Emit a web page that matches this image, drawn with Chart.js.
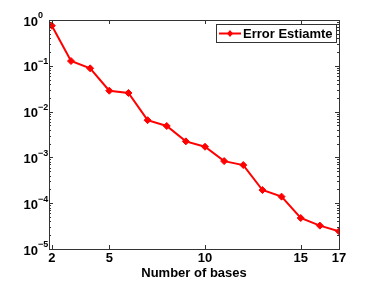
<!DOCTYPE html>
<html>
<head>
<meta charset="utf-8">
<script src="https://cdn.jsdelivr.net/npm/chart.js@4"></script>
<style>
  html, body { margin: 0; padding: 0; background: #fff; }
  #wrap { width: 374px; height: 281px; }
</style>
</head>
<body>
<div id="wrap"><canvas id="errChart"></canvas></div>
<script>
const bases = [2, 3, 4, 5, 6, 7, 8, 9, 10, 11, 12, 13, 14, 15, 16, 17];
const errorEstimate = [0.75, 0.127, 0.088, 0.0286, 0.0255, 0.0065, 0.00485, 0.00224,
  0.00171, 0.00083, 0.00068, 0.000194, 0.000139, 4.75e-5, 3.24e-5, 2.43e-5];
const xTicks = [2, 5, 10, 15, 17];
const yExponents = [0, -1, -2, -3, -4, -5];
const seriesName = 'Error Estiamte';
const xTitle = 'Number of bases';

const FONT = '"Liberation Sans", Arial, sans-serif';

// box, inside ticks, tick labels, axis title and the legend
const framePlugin = {
  id: 'frame',
  afterDraw(chart) {
    const c = chart.ctx, a = chart.chartArea;
    const xs = chart.scales.x, ys = chart.scales.y;
    c.save();
    c.strokeStyle = '#333';
    c.lineWidth = 1;
    c.strokeRect(Math.round(a.left) + 0.5, Math.round(a.top) + 0.5,
      Math.round(a.right - a.left), Math.round(a.bottom - a.top));

    c.beginPath();
    xTicks.forEach(v => {
      const px = Math.round(xs.getPixelForValue(v)) + 0.5;
      c.moveTo(px, a.bottom); c.lineTo(px, a.bottom - 4);
      c.moveTo(px, a.top); c.lineTo(px, a.top + 4);
    });
    yExponents.forEach(e => {
      const py = Math.round(ys.getPixelForValue(Math.pow(10, e))) + 0.5;
      c.moveTo(a.left, py); c.lineTo(a.left + 4, py);
      c.moveTo(a.right, py); c.lineTo(a.right - 4, py);
      if (e > -5) {
        for (let m = 2; m <= 9; m++) {
          const pm = Math.round(ys.getPixelForValue(m * Math.pow(10, e - 1))) + 0.5;
          c.moveTo(a.left, pm); c.lineTo(a.left + 2, pm);
          c.moveTo(a.right, pm); c.lineTo(a.right - 2, pm);
        }
      }
    });
    c.stroke();

    c.fillStyle = '#000';
    c.textBaseline = 'middle';

    // y tick labels 10^n
    yExponents.forEach(e => {
      const py = ys.getPixelForValue(Math.pow(10, e));
      c.font = 'bold 13px ' + FONT;
      c.textAlign = 'right';
      c.fillText('10', 38, py + 2);
      c.font = 'bold 9px ' + FONT;
      c.textAlign = 'left';
      c.fillText(e === 0 ? '0' : '\u2212' + (-e), 38, py - 4);
    });

    // x tick labels and title
    c.font = 'bold 13px ' + FONT;
    c.textAlign = 'center';
    xTicks.forEach(v => {
      c.fillText(String(v), xs.getPixelForValue(v), a.bottom + 9);
    });
    c.fillText(xTitle, (a.left + a.right) / 2, a.bottom + 24);

    // legend
    const lx = 216, ly = 24, lw = 120, lh = 18;
    c.fillStyle = '#fff';
    c.fillRect(lx, ly, lw, lh);
    c.strokeStyle = '#333';
    c.lineWidth = 1;
    c.strokeRect(lx + 0.5, ly + 0.5, lw, lh);
    c.strokeStyle = 'red';
    c.lineWidth = 2;
    c.beginPath();
    c.moveTo(lx + 3, ly + 9.5); c.lineTo(lx + 25, ly + 9.5);
    c.stroke();
    c.fillStyle = 'red';
    c.beginPath();
    const dx = lx + 14, dy = ly + 9.5;
    c.moveTo(dx, dy - 3.5); c.lineTo(dx + 3, dy); c.lineTo(dx, dy + 3.5); c.lineTo(dx - 3, dy);
    c.closePath(); c.fill();
    c.fillStyle = '#000';
    c.font = 'bold 13px ' + FONT;
    c.textAlign = 'left';
    c.fillText(seriesName, lx + 27, ly + 10);
    c.restore();
  }
};

new Chart(document.getElementById('errChart'), {
  type: 'line',
  data: {
    datasets: [{
      label: seriesName,
      data: bases.map((b, i) => ({ x: b, y: errorEstimate[i] })),
      borderColor: 'red',
      backgroundColor: 'red',
      borderWidth: 2,
      pointStyle: 'rectRot',
      pointRadius: 3.5,
      pointBorderWidth: 1,
      tension: 0
    }]
  },
  options: {
    responsive: true,
    maintainAspectRatio: false,
    animation: false,
    layout: { padding: { top: 20, right: 35, left: 0, bottom: 0 } },
    plugins: { legend: { display: false }, tooltip: { enabled: false } },
    scales: {
      x: {
        type: 'linear',
        min: 1.85,
        max: 17,
        grid: { display: false },
        border: { display: false },
        ticks: { display: false },
        afterFit: s => { s.height = 32; }
      },
      y: {
        type: 'logarithmic',
        min: 1e-5,
        max: 1,
        grid: { display: false },
        border: { display: false },
        ticks: { display: false },
        afterFit: s => { s.width = 49; }
      }
    }
  },
  plugins: [framePlugin]
});
</script>
</body>
</html>
